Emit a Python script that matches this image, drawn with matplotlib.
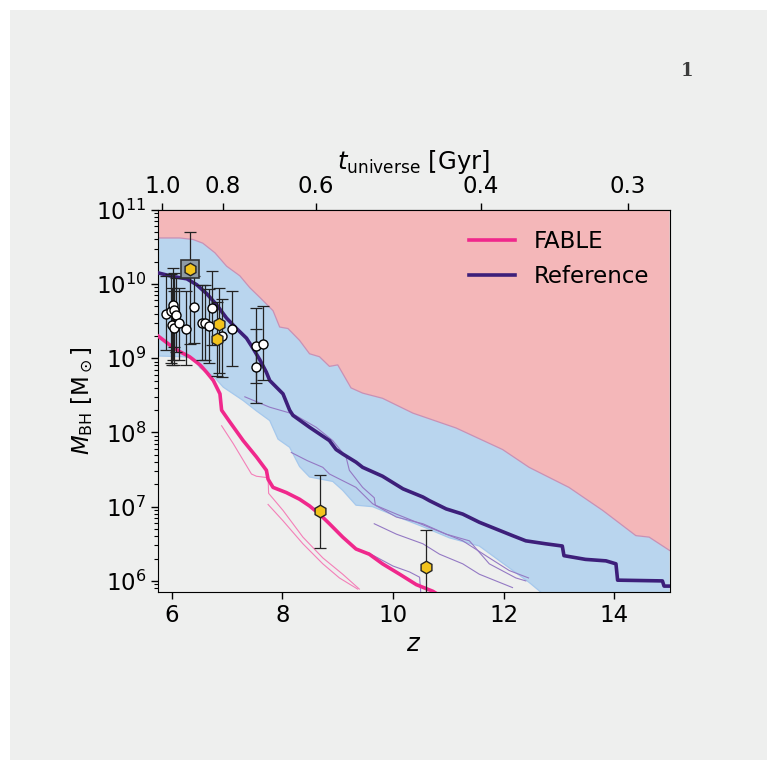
import numpy as np
import matplotlib
matplotlib.use("Agg")
import matplotlib.pyplot as plt
from matplotlib.patches import Rectangle
from matplotlib.ticker import NullLocator, FixedLocator, FormatStrFormatter

# ---- model envelopes (redshift, log10 M_BH) ----
upper_z = [5.75, 6.14, 6.38, 6.56, 6.78, 6.99, 7.23, 7.41, 7.59, 7.83, 7.95, 8.10,
           8.31, 8.49, 8.67, 8.85, 9.00, 9.24, 9.45, 9.81, 10.36, 11.14, 11.98,
           12.46, 13.18, 13.79, 14.39, 14.63, 15.0]
upper_logm = [10.62, 10.62, 10.60, 10.55, 10.42, 10.24, 10.11, 9.95, 9.82, 9.64, 9.42,
              9.40, 9.24, 9.06, 9.02, 8.89, 8.91, 8.60, 8.53, 8.46, 8.26, 8.06, 7.77,
              7.53, 7.26, 6.95, 6.61, 6.59, 6.41]

lower_z = [5.75, 6.20, 6.38, 6.51, 6.75, 6.93, 7.29, 7.53, 7.77, 7.92, 8.13, 8.31,
           8.49, 8.91, 9.09, 9.33, 9.63, 10.06, 10.54, 11.02, 11.56, 12.22, 12.46,
           12.75, 15.0]
lower_logm = [9.03, 9.02, 9.00, 8.87, 8.76, 8.61, 8.43, 8.29, 8.16, 7.91, 7.80, 7.54,
              7.40, 7.34, 7.22, 7.02, 7.00, 6.87, 6.73, 6.58, 6.47, 6.11, 5.98,
              5.80, 5.80]

# ---- main growth tracks ----
ref_z = [5.75, 6.02, 6.27, 6.45, 6.63, 6.81, 6.99, 7.17, 7.35, 7.47, 7.59, 7.71, 7.77,
         8.01, 8.13, 8.19, 8.49, 8.85, 8.97, 9.09, 9.33, 9.45, 9.81, 10.18, 10.54,
         10.66, 10.96, 11.26, 11.56, 11.86, 12.16, 12.40, 12.76, 13.06, 13.09, 13.48,
         13.85, 14.03, 14.06, 14.87, 14.90, 15.0]
ref_logm = [10.15, 10.10, 10.07, 9.99, 9.87, 9.72, 9.54, 9.40, 9.27, 9.13, 8.98, 8.81,
            8.70, 8.52, 8.30, 8.23, 8.07, 7.89, 7.77, 7.71, 7.60, 7.53, 7.41, 7.24,
            7.13, 7.08, 6.97, 6.90, 6.79, 6.70, 6.61, 6.54, 6.50, 6.47, 6.34, 6.29,
            6.27, 6.23, 6.01, 6.00, 5.93, 5.93]

fable_z = [5.75, 5.96, 6.14, 6.32, 6.51, 6.63, 6.75, 6.87, 6.90, 7.05, 7.29, 7.53,
           7.71, 7.74, 7.83, 8.07, 8.31, 8.49, 8.67, 8.85, 9.09, 9.33, 9.57, 9.81,
           10.12, 10.42, 10.72, 10.85]
fable_logm = [9.30, 9.18, 9.09, 9.02, 8.91, 8.81, 8.70, 8.52, 8.30, 8.14, 7.89, 7.67,
              7.49, 7.37, 7.26, 7.19, 7.10, 7.01, 6.90, 6.77, 6.59, 6.43, 6.36, 6.23,
              6.09, 5.95, 5.86, 5.80]

# ---- individual progenitor tracks ----
fable_thin_z = [
    [6.90, 7.11, 7.44, 7.53, 7.74, 7.75, 8.01, 8.37, 8.73, 9.09, 9.39],
    [7.74, 8.01, 8.37, 8.73, 9.03, 9.36],
]
fable_thin_logm = [
    [8.09, 7.85, 7.44, 7.41, 7.39, 7.18, 6.95, 6.59, 6.31, 6.09, 5.89],
    [7.03, 6.81, 6.50, 6.23, 6.04, 5.89],
]

ref_thin_z = [
    [7.32, 7.77, 8.19, 8.61, 8.91, 9.15, 9.21, 9.45, 9.66, 9.68, 10.06, 10.66, 11.26,
     11.74, 12.10, 12.45],
    [8.16, 8.45, 8.73, 8.85, 9.33, 9.63, 10.06, 10.54, 10.96, 11.38, 11.74, 12.22, 12.40],
    [9.66, 10.06, 10.54, 10.84, 11.26, 11.56, 11.86, 12.16],
    [9.55, 9.75, 10.00, 10.30, 10.48, 10.50],
]
ref_thin_logm = [
    [8.48, 8.34, 8.25, 8.07, 7.89, 7.67, 7.49, 7.26, 7.12, 7.02, 6.90, 6.72, 6.54,
     6.31, 6.14, 6.04],
    [7.73, 7.62, 7.53, 7.44, 7.26, 7.04, 6.86, 6.77, 6.63, 6.54, 6.23, 6.04, 6.00],
    [6.77, 6.63, 6.50, 6.36, 6.23, 6.09, 6.00, 5.91],
    [6.38, 6.30, 6.20, 6.12, 6.05, 5.85],
]

# ---- observed quasars (z, log10 M, lower, upper) ----
qso_z = [5.90, 5.98, 6.02, 6.04, 6.07, 6.01, 6.04, 6.13, 6.26, 6.40, 6.55, 6.60, 6.67,
         6.73, 6.91, 7.09, 7.52, 7.65, 7.52]
qso_logm = [9.60, 9.64, 9.72, 9.65, 9.58, 9.45, 9.41, 9.47, 9.40, 9.69, 9.48, 9.48,
            9.43, 9.67, 9.30, 9.39, 9.16, 9.19, 8.88]
qso_lo = [9.11, 8.94, 8.97, 9.15, 9.08, 8.91, 8.91, 8.97, 8.91, 9.20, 8.98, 8.98, 8.93,
          9.18, 8.75, 8.89, 8.67, 8.70, 8.40]
qso_hi = [10.11, 10.14, 10.21, 10.15, 10.08, 9.95, 9.91, 9.94, 9.91, 10.11, 9.98, 9.98,
          9.93, 10.18, 9.80, 9.90, 9.68, 9.70, 9.39]

# ---- JWST-era sources ----
agn_z = [6.32, 6.85, 6.82, 8.68, 10.60]
agn_logm = [10.20, 9.46, 9.26, 6.94, 6.19]
agn_lo = [9.19, 8.80, 8.76, 6.44, 5.69]
agn_hi = [10.70, 9.95, 9.76, 7.43, 6.69]
boxed = [True, False, False, False, False]

time_ticks = [1.0, 0.8, 0.6, 0.4, 0.3]

PAGE = "#eeefee"
RED = "#f4b7b9"
BLUE = "#b9d5ee"
FABLE_C = "#f0288c"
REF_C = "#3d1f7a"
FONT = 16.5

def p(v):
    return 10.0 ** np.asarray(v, dtype=float)

fig = plt.figure(figsize=(7.67, 7.60), dpi=100, facecolor="white")
fig.add_artist(Rectangle((10 / 767, 0), 1, 1 - 10 / 760, transform=fig.transFigure,
                         facecolor=PAGE, edgecolor="none", zorder=-10))
fig.text(687 / 767, 1 - 71 / 760, "1", family="DejaVu Serif", weight="bold",
         fontsize=13, color="#3c3c3c", ha="center", va="center")

ax = fig.add_axes([0.206, 0.221, 0.667, 0.503])
ax.set_facecolor(PAGE)
ax.set_yscale("log")
ax.set_xlim(5.75, 15.0)
ax.set_ylim(10 ** 5.85, 1e11)

# excluded region above the envelope
ax.fill(np.concatenate([upper_z, [upper_z[-1], upper_z[0]]]),
        np.concatenate([p(upper_logm), [1e11, 1e11]]),
        color=RED, lw=0, zorder=1)
# envelope between lower and upper bounds
ax.fill(np.concatenate([upper_z, lower_z[::-1]]),
        np.concatenate([p(upper_logm), p(lower_logm)[::-1]]),
        color=BLUE, lw=0, zorder=1)
ax.plot(upper_z, p(upper_logm), color="#c990b4", lw=0.9, zorder=1.5)
ax.plot(lower_z, p(lower_logm), color="#a5c8ec", lw=0.9, zorder=1.5)

for zz, mm in zip(fable_thin_z, fable_thin_logm):
    ax.plot(zz, p(mm), color="#f47fb8", lw=0.8, zorder=2)
for zz, mm in zip(ref_thin_z, ref_thin_logm):
    ax.plot(zz, p(mm), color="#9479c4", lw=0.8, zorder=2)

ax.plot(fable_z, p(fable_logm), color=FABLE_C, lw=2.6, zorder=3, label="FABLE")
ax.plot(ref_z, p(ref_logm), color=REF_C, lw=2.6, zorder=3, label="Reference")

qm = p(qso_logm)
ax.errorbar(qso_z, qm, yerr=[qm - p(qso_lo), p(qso_hi) - qm], fmt="none",
            ecolor="#222222", elinewidth=0.9, capsize=4, capthick=0.9, zorder=4)
ax.plot(qso_z, qm, "o", ms=6.5, mfc="white", mec="black", mew=1.0, zorder=5)

am = p(agn_logm)
ax.errorbar(agn_z, am, yerr=[am - p(agn_lo), p(agn_hi) - am], fmt="none",
            ecolor="#222222", elinewidth=0.9, capsize=4, capthick=0.9, zorder=4)
for zb, mb, b in zip(agn_z, am, boxed):
    if b:
        ax.plot(zb, mb, "s", ms=13, mfc="#8e9aa5", mec="#333333", mew=1.2, zorder=5)
ax.plot(agn_z, am, "h", ms=9, mfc="#f2c31c", mec="#222222", mew=1.0, zorder=6)

ax.set_xticks([6, 8, 10, 12, 14])
ax.xaxis.set_minor_locator(NullLocator())
ax.tick_params(axis="both", which="major", labelsize=FONT, length=5, width=1)
ax.tick_params(axis="y", which="minor", length=3, width=0.8)
ax.set_xlabel(r"$z$", fontsize=FONT + 1)
ax.set_ylabel(r"$M_{\rm BH}$ [M$_\odot$]", fontsize=FONT, labelpad=0)

A_T = 17.85

def z_to_t(z):
    z = np.asarray(z, dtype=float)
    with np.errstate(all="ignore"):
        return A_T * np.power(np.clip(1.0 + z, 1e-6, None), -1.5)

def t_to_z(t):
    t = np.asarray(t, dtype=float)
    with np.errstate(all="ignore"):
        return np.power(A_T / np.clip(t, 1e-6, None), 2.0 / 3.0) - 1.0

sec = ax.secondary_xaxis("top", functions=(z_to_t, t_to_z))
sec.xaxis.set_major_locator(FixedLocator(time_ticks))
sec.xaxis.set_major_formatter(FormatStrFormatter("%.1f"))
sec.xaxis.set_minor_locator(NullLocator())
sec.tick_params(axis="x", labelsize=FONT, length=5, width=1)
sec.set_xlabel(r"$t_{\rm universe}$ [Gyr]", fontsize=FONT + 1)

ax.legend(loc="upper right", frameon=False, fontsize=FONT, handlelength=2.0,
          borderaxespad=0.5)

fig.savefig("out.png", dpi=100, facecolor=fig.get_facecolor())
